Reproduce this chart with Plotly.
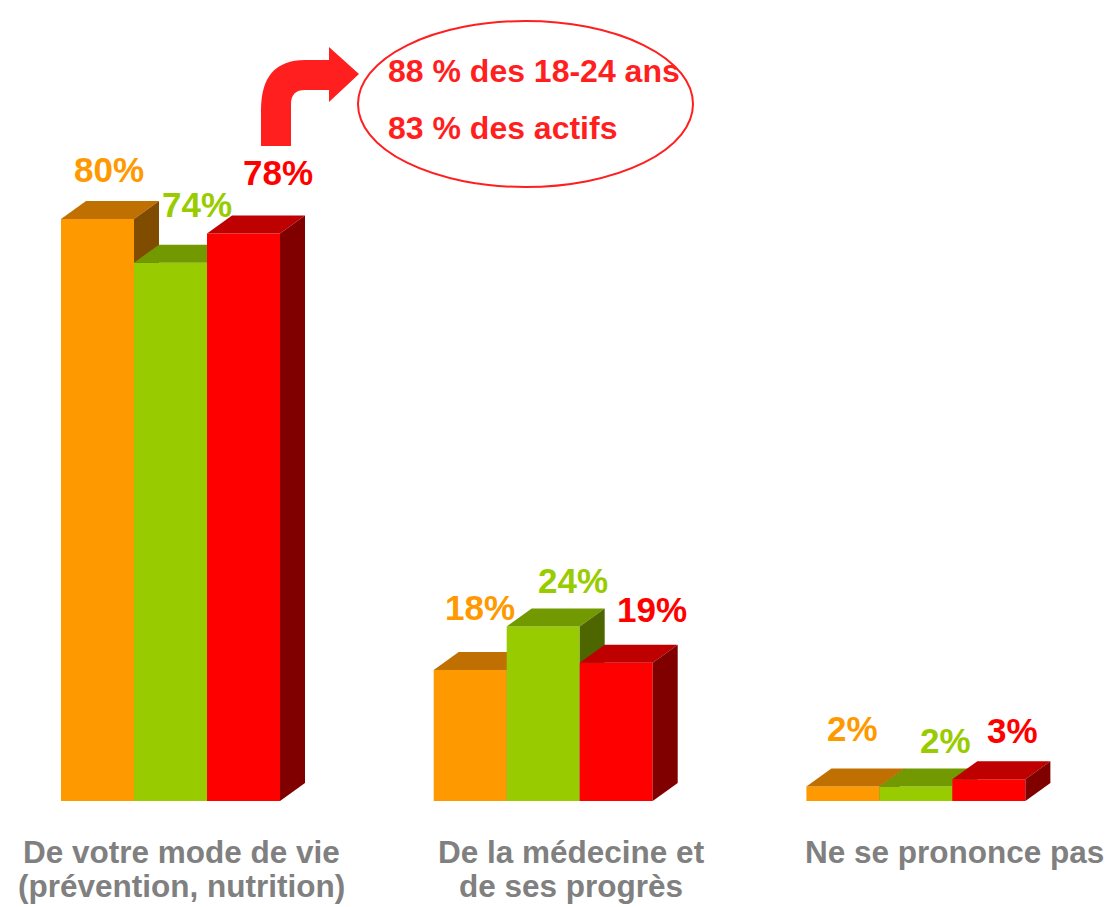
import plotly.graph_objects as go

# ── Data ───────────────────────────────────────────────────────
categories = [
    ["De votre mode de vie", "(prévention, nutrition)"],
    ["De la médecine et", "de ses progrès"],
    ["Ne se prononce pas"],
]
series_a = [80, 18, 2]   # orange
series_b = [74, 24, 2]   # vert
series_c = [78, 19, 3]   # rouge
callout_lines = ["88 % des 18-24 ans", "83 % des actifs"]

# ── Style ──────────────────────────────────────────────────────
W, H = 1108, 907
FONT = "Liberation Sans, Arial, sans-serif"
FRONT = ["#FF9900", "#99CC00", "#FF0000"]
TOP = ["#C07000", "#739900", "#BF0000"]
SIDE = ["#804D00", "#4D6600", "#800000"]
LABEL = ["#FF9900", "#99CC00", "#FF0000"]
CALLOUT = "#FF1F1F"

# pixel <-> data scale (plot area = whole figure)
X0_PX, GROUP_PX = 170.5, 372.7      # centre of first group, spacing
BASE_PX, UNIT_PX = 801, 7.275       # baseline, px per %
BAR_W = 73 / GROUP_PX
DX = 25 / GROUP_PX
DY = 18 / UNIT_PX
XR = [-X0_PX / GROUP_PX, (W - X0_PX) / GROUP_PX]
YR = [-(H - BASE_PX) / UNIT_PX, BASE_PX / UNIT_PX]

# label nudges (px) per bar: [series][group]
label_dx = [[-1, -3, -3], [14, 17, 17], [22, 23, 11]]
label_dy = [[32, 45, 40], [40, 28, 28], [43, 35, 31]]


def px(x):
    return x / W


def py(y):
    return 1 - y / H


fig = go.Figure()
all_series = [series_a, series_b, series_c]
for s, vals in enumerate(all_series):
    ax = "" if s == 0 else str(s + 1)
    xa, ya = "x" + ax, "y" + ax
    off = (s - 1.5) * BAR_W
    fig.add_trace(
        go.Bar(
            x=list(range(len(vals))),
            y=vals,
            offset=off,
            width=BAR_W,
            marker=dict(color=FRONT[s], line=dict(width=0)),
            xaxis=xa,
            yaxis=ya,
            hoverinfo="skip",
            showlegend=False,
        )
    )
    for g, v in enumerate(vals):
        xl = g + off
        xr = xl + BAR_W
        # top face
        fig.add_trace(
            go.Scatter(
                x=[xl, xr, xr + DX, xl + DX, xl],
                y=[v, v, v + DY, v + DY, v],
                fill="toself",
                fillcolor=TOP[s],
                line=dict(width=0),
                mode="lines",
                xaxis=xa,
                yaxis=ya,
                hoverinfo="skip",
                showlegend=False,
            )
        )
        # side face
        fig.add_trace(
            go.Scatter(
                x=[xr, xr, xr + DX, xr + DX, xr],
                y=[0, v, v + DY, DY, 0],
                fill="toself",
                fillcolor=SIDE[s],
                line=dict(width=0),
                mode="lines",
                xaxis=xa,
                yaxis=ya,
                hoverinfo="skip",
                showlegend=False,
            )
        )

annotations = []
for s, vals in enumerate(all_series):
    for g, v in enumerate(vals):
        xc = g + (s - 1) * BAR_W + DX / 2 + label_dx[s][g] / GROUP_PX
        yc = v + DY + label_dy[s][g] / UNIT_PX
        annotations.append(
            dict(
                x=xc, y=yc, xref="x", yref="y",
                text=f"<b>{v}%</b>",
                showarrow=False,
                xanchor="center", yanchor="middle",
                font=dict(family=FONT, size=35, color=LABEL[s]),
            )
        )

# category labels (one annotation per line)
cat_pos = [(181, [852, 886]), (571, [852, 886]), (954, [852])]
for (cx, ys), lines in zip(cat_pos, categories):
    for yy, line in zip(ys, lines):
        annotations.append(
            dict(
                x=px(cx), y=py(yy), xref="paper", yref="paper",
                text=f"<b>{line}</b>",
                showarrow=False,
                xanchor="center", yanchor="middle",
                font=dict(family=FONT, size=31.5, color="#808080"),
            )
        )

# callout text
for yy, line in zip([71, 128], callout_lines):
    annotations.append(
        dict(
            x=px(386), y=py(yy), xref="paper", yref="paper",
            text=f"<b>{line}</b>",
            showarrow=False,
            xanchor="left", yanchor="middle",
            font=dict(family=FONT, size=32, color=CALLOUT),
        )
    )

# bent arrow + ellipse
def P(x, y):
    return f"{px(x):.5f},{py(y):.5f}"


arrow_path = (
    f"M {P(261,146)} L {P(261,110)} "
    f"Q {P(261,60)} {P(305,60)} "
    f"L {P(329,60)} L {P(329,47)} L {P(359,74)} L {P(329,102)} L {P(329,90)} "
    f"L {P(305,90)} Q {P(291,90)} {P(291,104)} "
    f"L {P(291,146)} Z"
)

shapes = [
    dict(type="path", path=arrow_path, xref="paper", yref="paper",
         fillcolor=CALLOUT, line=dict(width=0)),
    dict(type="circle", xref="paper", yref="paper",
         x0=px(358), x1=px(693), y0=py(187), y1=py(21),
         line=dict(color=CALLOUT, width=2), fillcolor="rgba(0,0,0,0)"),
]

ax_style = dict(visible=False, fixedrange=True, showgrid=False, zeroline=False)
layout = dict(
    width=W,
    height=H,
    margin=dict(l=0, r=0, t=0, b=0),
    paper_bgcolor="white",
    plot_bgcolor="white",
    barmode="overlay",
    showlegend=False,
    annotations=annotations,
    shapes=shapes,
    xaxis=dict(range=XR, **ax_style),
    yaxis=dict(range=YR, **ax_style),
)
for k in (2, 3):
    layout[f"xaxis{k}"] = dict(range=XR, overlaying="x", **ax_style)
    layout[f"yaxis{k}"] = dict(range=YR, overlaying="y", **ax_style)
fig.update_layout(**layout)

fig.write_html(
    "out.html",
    config={"displayModeBar": False},
    post_script="document.body.style.margin='0';document.body.style.overflow='hidden';",
)
